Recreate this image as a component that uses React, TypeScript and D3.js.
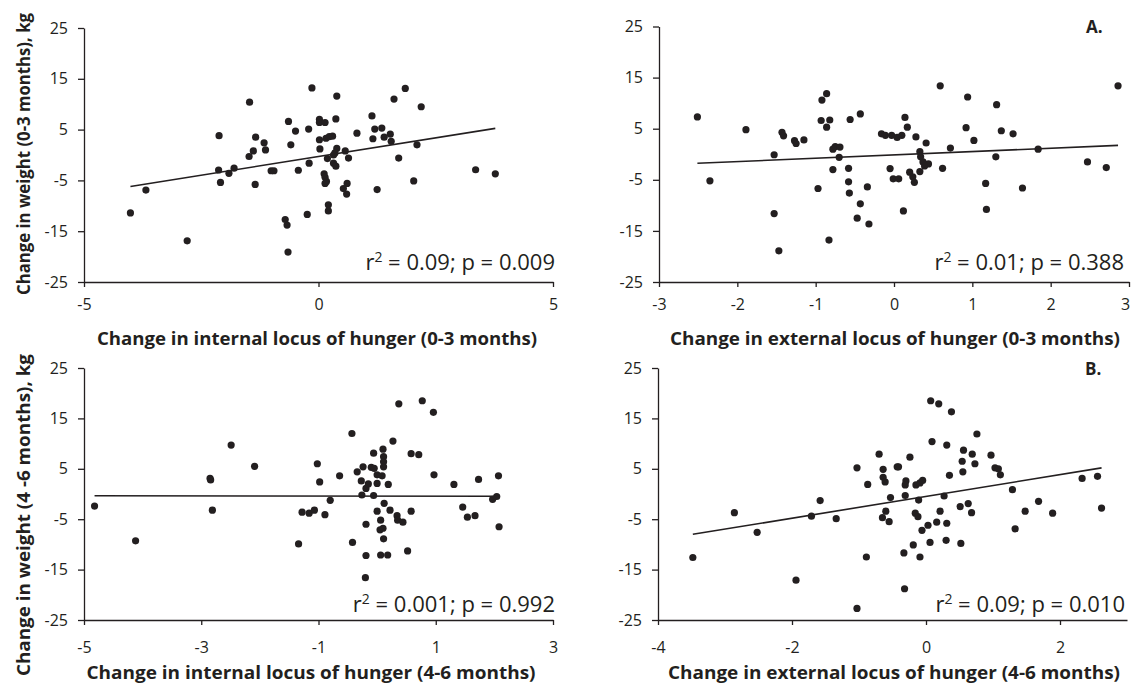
import React, { useEffect, useRef } from "react";
import * as d3 from "d3";

// [change in locus of hunger, change in weight (kg)]
const internal03: [number, number][] = [
  [-4.01, -11.4], [-3.68, -6.9], [-2.8, -16.9], [-2.12, 3.8], [-2.13, -2.95], [-2.09, -5.4],
  [-1.91, -3.6], [-1.8, -2.6], [-1.47, 10.4], [-1.34, 3.5], [-1.39, 0.8], [-1.48, -0.3],
  [-1.16, 2.4], [-1.13, 1.0], [-1.35, -5.8], [-1.01, -3.1], [-0.95, -3.1], [-0.64, 6.6],
  [-0.49, 4.7], [-0.59, 2.0], [-0.43, -3.0], [-0.71, -12.7], [-0.67, -13.8], [-0.65, -19.1],
  [-0.24, -11.7], [-0.21, 5.1], [-0.2, -1.6], [-0.14, 13.2], [0.02, 7.0], [0.02, 6.4],
  [0.14, 6.4], [0.02, 3.0], [0.03, 1.2], [0.39, 11.6], [1.85, 13.1], [1.61, 11.0],
  [2.19, 9.5], [0.37, 7.1], [1.14, 7.7], [1.2, 5.1], [1.35, 5.3], [1.16, 3.2],
  [1.4, 3.5], [1.53, 4.1], [1.55, 2.7], [0.82, 4.3], [0.16, 3.3], [0.23, 3.6],
  [0.3, 3.7], [0.39, 1.3], [0.35, 0.4], [0.32, 0.0], [0.57, 0.8], [0.64, -0.6],
  [0.19, -0.7], [0.32, -1.6], [0.37, -2.2], [1.71, -0.6], [2.1, 2.0], [0.12, -3.7],
  [0.14, -4.4], [0.17, -5.2], [0.14, -5.6], [0.61, -5.6], [0.53, -6.6], [0.6, -7.7],
  [1.25, -6.8], [2.03, -5.1], [0.21, -9.8], [0.21, -11.0], [3.35, -2.9], [3.77, -3.7],
];

const external03: [number, number][] = [
  [-2.51, 7.3], [-2.35, -5.2], [-1.89, 4.8], [-1.43, 4.3], [-1.41, 3.6], [-1.53, -0.1],
  [-1.27, 2.65], [-1.25, 2.1], [-1.15, 2.8], [-1.53, -11.6], [-1.47, -18.9], [-0.92, 10.6],
  [-0.86, 11.85], [-0.93, 6.6], [-0.82, 6.7], [-0.86, 5.3], [-0.56, 6.8], [-0.43, 7.9],
  [-0.75, 1.5], [-0.78, 1.0], [-0.69, 1.4], [-0.7, -0.6], [-0.78, -3.0], [-0.58, -2.75],
  [-0.97, -6.7], [-0.58, -5.4], [-0.57, -7.6], [-0.34, -6.4], [-0.43, -9.7], [-0.47, -12.5],
  [-0.32, -13.65], [-0.83, -16.8], [-0.16, 4.0], [-0.11, 3.7], [-0.03, 3.7], [0.04, 3.3],
  [0.1, 3.7], [0.14, 7.2], [0.17, 5.3], [0.28, 3.4], [0.41, 2.2], [0.59, 13.4],
  [0.33, 0.5], [0.34, -0.5], [0.37, -1.5], [0.44, -1.9], [0.39, -2.3], [-0.05, -2.8],
  [-0.01, -4.8], [0.06, -4.8], [0.2, -3.5], [0.24, -4.4], [0.26, -5.5], [0.33, -3.4],
  [0.62, -2.75], [0.72, 1.2], [0.92, 5.2], [0.94, 11.2], [1.02, 2.7], [1.31, 9.7],
  [1.37, 4.6], [1.52, 4.0], [1.3, -0.5], [1.17, -5.7], [1.18, -10.8], [1.64, -6.6],
  [1.84, 1.0], [0.12, -11.1], [2.47, -1.5], [2.71, -2.6], [2.86, 13.4],
];

const internal46: [number, number][] = [
  [-4.82, -2.4], [-4.12, -9.3], [-2.85, 3.1], [-2.84, 2.8], [-2.81, -3.2], [-2.49, 9.7],
  [-2.09, 5.5], [-1.34, -9.9], [-1.28, -3.6], [-1.16, -3.8], [-1.07, -3.2], [-1.02, 6.0],
  [-0.98, 2.4], [-0.89, -4.1], [-0.8, -1.25], [-0.64, 3.6], [-0.43, 12.0], [-0.42, -9.6],
  [-0.34, 4.4], [-0.24, 5.4], [-0.27, 2.6], [-0.19, -6.0], [-0.19, -12.2], [-0.2, -16.6],
  [-0.26, -0.2], [-0.19, 1.1], [-0.15, 2.0], [-0.1, 5.3], [-0.05, 5.1], [0.0, 3.8],
  [0.085, 3.6], [-0.06, 8.1], [0.1, 8.9], [0.11, 7.4], [0.11, 6.4], [0.11, 5.4],
  [0.0, 2.1], [0.19, 1.9], [-0.06, -0.3], [0.27, 10.5], [0.37, 17.9], [0.12, -1.85],
  [0.0, -3.4], [0.22, -3.2], [0.06, -5.2], [0.05, -7.1], [0.1, -6.8], [0.11, -8.9],
  [0.06, -12.1], [0.18, -12.1], [0.34, -4.3], [0.35, -5.2], [0.44, -5.6], [0.58, -3.4],
  [0.52, -11.3], [0.58, 8.0], [0.71, 7.8], [0.77, 18.5], [0.96, 16.2], [0.97, 3.8],
  [1.31, 1.9], [1.46, -2.6], [1.54, -4.6], [1.67, -4.3], [1.73, 2.9], [2.07, 3.6],
  [1.97, -1.05], [2.04, -0.5], [2.08, -6.5],
];

const external46: [number, number][] = [
  [-3.48, -12.6], [-2.86, -3.7], [-2.52, -7.6], [-1.94, -17.1], [-1.71, -4.4], [-1.58, -1.3],
  [-1.34, -4.9], [-1.03, -22.7], [-1.03, 5.2], [-0.89, -12.5], [-0.87, 1.9], [-0.7, 7.9],
  [-0.64, 4.9], [-0.64, 3.3], [-0.61, 2.4], [-0.53, -0.7], [-0.6, -3.4], [-0.65, -4.7],
  [-0.55, -5.5], [-0.43, 5.4], [-0.41, 5.4], [-0.24, 7.3], [-0.3, 2.6], [-0.31, 1.8],
  [-0.15, 1.8], [-0.09, 2.2], [-0.05, 2.7], [-0.31, -0.3], [-0.11, -1.2], [-0.16, -3.8],
  [-0.12, -4.5], [-0.19, -10.1], [-0.33, -11.7], [-0.09, -12.5], [-0.06, -7.2], [0.03, -6.2],
  [0.06, -9.6], [0.16, -5.6], [0.21, -3.4], [0.07, 18.5], [0.19, 17.9], [0.38, 16.3],
  [0.09, 10.4], [0.31, 9.7], [0.35, 3.7], [0.27, -0.4], [0.31, -5.8], [0.3, -9.2],
  [0.51, -2.5], [0.63, -1.9], [0.68, -3.7], [0.52, -9.8], [0.54, 6.5], [0.55, 4.4],
  [0.56, 8.7], [0.69, 7.9], [0.73, 6.0], [0.76, 11.9], [0.97, 7.7], [1.03, 5.2],
  [1.08, 5.0], [1.11, 3.8], [1.29, 0.85], [1.33, -6.9], [1.48, -3.4], [1.68, -1.45],
  [1.89, -3.8], [2.33, 3.1], [2.56, 3.5], [2.62, -2.8], [-0.32, -18.8],
];

const yTicks = [-25, -15, -5, 5, 15, 25];
const xTicksInt03 = [-5, 0, 5];
const xTicksExt03 = [-3, -2, -1, 0, 1, 2, 3];
const xTicksInt46 = [-5, -3, -1, 1, 3];
const xTicksExt46 = [-4, -2, 0, 2];

// linear fits (slope, intercept)
const trendSlopes = [1.47, 0.654, -0.015, 2.16];
const trendIntercepts = [-0.3, -0.13, -0.42, -0.48];
const statR2 = ["0.09", "0.01", "0.001", "0.09"];
const statP = ["0.009", "0.388", "0.992", "0.010"];

const xTitles = [
  "Change in internal locus of hunger (0-3 months)",
  "Change in external locus of hunger (0-3 months)",
  "Change in internal locus of hunger (4-6 months)",
  "Change in external locus of hunger (4-6 months)",
];
const yTitles = ["Change in weight (0-3 months), kg", "", "Change in weight (4 -6 months), kg", ""];
const panelTags = ["", "A.", "", "B."];

const INK = "#231f20";
const FONT = "'Open Sans', 'Noto Sans', sans-serif";

const panels = [
  { pts: internal03, xd: [-5, 5], xt: xTicksInt03, x0: 84, x1: 553, yTop: 28, yBot: 282, pad: 12,
    tx: 317, ty: 345, tl: 440, yx: 30, yc: 154, yl: 282, sx: 555, sy: 270, tagX: 0, tagY: 0 },
  { pts: external03, xd: [-3, 3], xt: xTicksExt03, x0: 659, x1: 1129, yTop: 26.5, yBot: 282, pad: 12,
    tx: 895, ty: 345, tl: 450, yx: 0, yc: 0, yl: 0, sx: 1124, sy: 270, tagX: 1086, tagY: 33 },
  { pts: internal46, xd: [-5, 3], xt: xTicksInt46, x0: 84, x1: 553, yTop: 368, yBot: 620, pad: 17,
    tx: 311, ty: 679, tl: 449, yx: 30, yc: 515, yl: 322, sx: 555, sy: 612, tagX: 0, tagY: 0 },
  { pts: external46, xd: [-4, 3], xt: xTicksExt46, x0: 658, x1: 1127, yTop: 368, yBot: 620, pad: 17,
    tx: 894, ty: 679, tl: 452, yx: 0, yc: 0, yl: 0, sx: 1125, sy: 612, tagX: 1085, tagY: 375 },
];

const App = () => {
  const ref = useRef<SVGSVGElement>(null);

  useEffect(() => {
    const svg = d3.select(ref.current);
    svg.selectAll("*").remove();

    panels.forEach((p, i) => {
      const x = d3.scaleLinear().domain(p.xd).range([p.x0, p.x1]);
      const y = d3.scaleLinear().domain([-25, 25]).range([p.yBot, p.yTop]);
      const g = svg.append("g");

      // axes
      const yAxis = g.append("g")
        .attr("transform", `translate(${p.x0},0)`)
        .call(d3.axisLeft(y).tickValues(yTicks).tickSize(6).tickSizeOuter(0).tickPadding(10));
      const xAxis = g.append("g")
        .attr("transform", `translate(0,${p.yBot})`)
        .call(d3.axisBottom(x).tickValues(p.xt).tickSize(5).tickSizeOuter(0).tickPadding(p.pad));
      [yAxis, xAxis].forEach((a) => {
        a.select(".domain").attr("stroke", INK).attr("stroke-width", 1.3);
        a.selectAll(".tick line").attr("stroke", INK).attr("stroke-width", 1.3);
        a.selectAll(".tick text")
          .attr("fill", INK)
          .style("font-family", FONT)
          .style("font-size", "16px")
          .text((d: any) => (d < 0 ? "-" + Math.abs(d) : String(d)));
      });
      // keep the last label of a right-edge axis inside the page
      if (p.x1 > 1120) {
        xAxis.selectAll(".tick text").filter((d: any) => x(d) > 1120).attr("x", -4);
      }

      // points
      g.selectAll(".dot")
        .data(p.pts)
        .join("circle")
        .attr("cx", (d) => x(d[0]))
        .attr("cy", (d) => y(d[1]))
        .attr("r", 3.6)
        .attr("fill", INK);

      // trend line over data extent
      const [lo, hi] = d3.extent(p.pts, (d) => d[0]) as [number, number];
      const fit = (v: number) => trendSlopes[i] * v + trendIntercepts[i];
      g.append("path")
        .attr("d", d3.line<number>().x((v) => x(v)).y((v) => y(fit(v)))([lo, hi]))
        .attr("stroke", INK)
        .attr("stroke-width", 1.6)
        .attr("fill", "none");

      // stats
      const st = g.append("text")
        .attr("x", p.sx)
        .attr("y", p.sy)
        .attr("text-anchor", "end")
        .attr("fill", INK)
        .style("font-family", FONT)
        .style("font-size", "22px");
      st.append("tspan").text("r");
      st.append("tspan").attr("dy", -8).style("font-size", "14px").text("2");
      st.append("tspan").attr("dy", 8).text(` = ${statR2[i]}; p = ${statP[i]}`);

      // axis titles
      g.append("text")
        .attr("x", p.tx)
        .attr("y", p.ty)
        .attr("text-anchor", "middle")
        .attr("textLength", p.tl)
        .attr("lengthAdjust", "spacingAndGlyphs")
        .attr("fill", INK)
        .style("font-family", FONT)
        .style("font-weight", "bold")
        .style("font-size", "17.5px")
        .text(xTitles[i]);

      if (yTitles[i]) {
        g.append("text")
          .attr("transform", `translate(${p.yx},${p.yc}) rotate(-90)`)
          .attr("text-anchor", "middle")
          .attr("textLength", p.yl)
          .attr("lengthAdjust", "spacingAndGlyphs")
          .attr("fill", INK)
          .style("font-family", FONT)
          .style("font-weight", "bold")
          .style("font-size", "17px")
          .text(yTitles[i]);
      }

      if (panelTags[i]) {
        g.append("text")
          .attr("x", p.tagX)
          .attr("y", p.tagY)
          .attr("fill", INK)
          .style("font-family", FONT)
          .style("font-weight", "bold")
          .style("font-size", "17px")
          .text(panelTags[i]);
      }
    });
  }, []);

  return (
    <svg
      ref={ref}
      width={1132}
      height={689}
      style={{ position: "absolute", left: 0, top: 0, background: "#fff" }}
    />
  );
};

export default App;
